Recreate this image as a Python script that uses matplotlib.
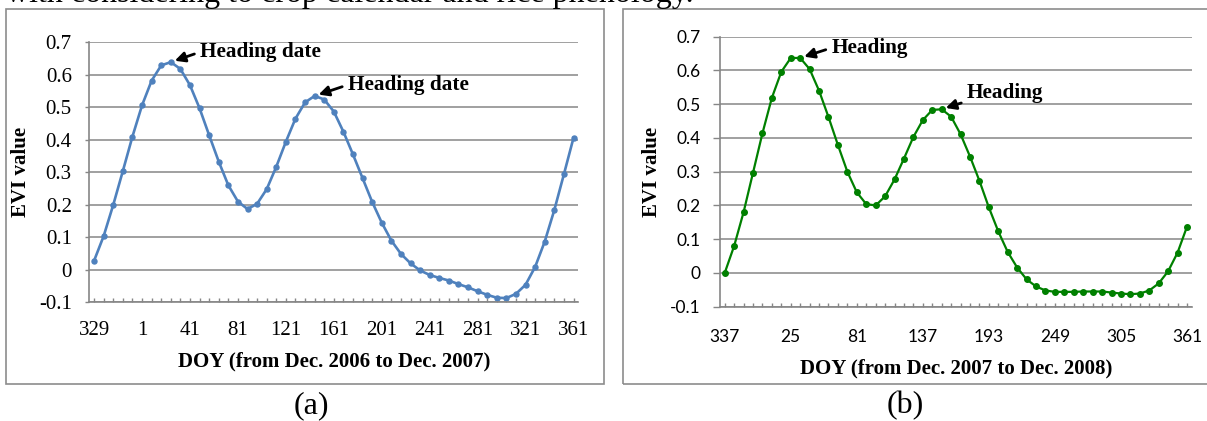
import matplotlib
matplotlib.use("Agg")
import matplotlib.pyplot as plt
from matplotlib.patches import Rectangle

# EVI profiles (8-day composites)
doy_a = [329, 337, 345, 353, 361, 1, 9, 17, 25, 33, 41, 49, 57, 65, 73, 81, 89, 97,
         105, 113, 121, 129, 137, 145, 153, 161, 169, 177, 185, 193, 201, 209, 217,
         225, 233, 241, 249, 257, 265, 273, 281, 289, 297, 305, 313, 321, 329, 337,
         345, 353, 361]
evi_a = [0.028, 0.104, 0.200, 0.304, 0.410, 0.506, 0.582, 0.629, 0.639, 0.618,
         0.568, 0.497, 0.414, 0.333, 0.260, 0.210, 0.187, 0.203, 0.248, 0.317,
         0.394, 0.465, 0.515, 0.535, 0.524, 0.487, 0.425, 0.355, 0.282, 0.209,
         0.145, 0.090, 0.049, 0.020, -0.002, -0.016, -0.025, -0.033, -0.044, -0.054,
         -0.066, -0.077, -0.086, -0.087, -0.074, -0.046, 0.009, 0.087, 0.184, 0.294,
         0.406]

doy_b = [337, 345, 353, 361, 1, 9, 17, 25, 33, 41, 49, 57, 65, 73, 81, 89, 97, 105,
         113, 121, 129, 137, 145, 153, 161, 169, 177, 185, 193, 201, 209, 217, 225,
         233, 241, 249, 257, 265, 273, 281, 289, 297, 305, 313, 321, 329, 337, 345,
         353, 361]
evi_b = [0.000, 0.080, 0.180, 0.297, 0.414, 0.519, 0.596, 0.637, 0.637, 0.604,
         0.540, 0.462, 0.379, 0.300, 0.239, 0.204, 0.200, 0.227, 0.277, 0.339,
         0.403, 0.453, 0.483, 0.485, 0.463, 0.411, 0.345, 0.273, 0.194, 0.123,
         0.062, 0.016, -0.019, -0.040, -0.052, -0.056, -0.056, -0.056, -0.055, -0.055,
         -0.055, -0.058, -0.061, -0.063, -0.061, -0.052, -0.031, 0.005, 0.060, 0.137]

yticks = [-0.1, 0, 0.1, 0.2, 0.3, 0.4, 0.5, 0.6, 0.7]
ytick_labels = ["-0.1", "0", "0.1", "0.2", "0.3", "0.4", "0.5", "0.6", "0.7"]

W, H = 1207, 421
SERIF = "Liberation Serif"
GRAY = "#868686"


def box(l, t, r, b):
    return [l / W, 1 - b / H, (r - l) / W, (b - t) / H]


fig = plt.figure(figsize=(W / 100, H / 100), dpi=100)

# panel frames
for l, t, r, b in [(6, 9, 604, 384), (623, 9, 1215, 384)]:
    fig.add_artist(Rectangle((l / W, 1 - b / H), (r - l) / W, (b - t) / H,
                             transform=fig.transFigure, fill=False,
                             edgecolor="#8c8c8c", lw=1.2))

# cut-off line of body text above the figure
fig.text(6 / W, 1 - 2 / H, "with considering to crop calendar and rice phenology.",
         fontsize=23, family=SERIF, va="baseline")
fig.text(311 / W, 1 - 413 / H, "(a)", fontsize=23, family=SERIF, ha="center", va="baseline")
fig.text(905 / W, 1 - 413 / H, "(b)", fontsize=23, family=SERIF, ha="center", va="baseline")


def style_axes(ax, n, step, doy, tickfont, tsize, ylen, ypad, xpad):
    ax.set_ylim(-0.1, 0.7)
    ax.set_xlim(-0.5, n - 0.5)
    ax.set_yticks(yticks)
    ax.set_yticklabels(ytick_labels, family=tickfont, fontsize=tsize)
    ax.set_xticks(range(n))
    ax.set_xticklabels([str(d) if i % step == 0 else "" for i, d in enumerate(doy)],
                       family=tickfont, fontsize=tsize)
    ax.tick_params(axis="y", length=ylen, width=1, color=GRAY, pad=ypad, direction="out")
    ax.tick_params(axis="x", length=3, width=1, color=GRAY, pad=xpad, direction="in")
    for s in ["top", "right"]:
        ax.spines[s].set_visible(False)
    for s in ["left", "bottom"]:
        ax.spines[s].set_color(GRAY)
        ax.spines[s].set_linewidth(1.2)
    ax.yaxis.grid(True, color=GRAY, lw=1.1)
    ax.set_axisbelow(True)


arrow = dict(arrowstyle="-|>", color="black", lw=2, mutation_scale=15,
             shrinkA=2, shrinkB=3)

# (a)
ax_a = fig.add_axes(box(89.3, 42.3, 578.3, 302.3))
ax_a.plot(range(len(evi_a)), evi_a, color="#4F81BD", lw=1.9, marker="o", ms=3.6)
style_axes(ax_a, len(doy_a), 5, doy_a, SERIF, 15, 3.1, 9.5, 13.5)
ax_a.set_ylabel("EVI value", family=SERIF, fontsize=15, fontweight="bold")
ax_a.yaxis.set_label_coords(-0.119, 0.5)
ax_a.set_xlabel("DOY (from Dec. 2006 to Dec. 2007)", family=SERIF, fontsize=15,
                fontweight="bold")
ax_a.xaxis.set_label_coords(0.5, -0.226)
ax_a.xaxis.label.set_verticalalignment("center")
for i, dx, dy in [(8, 29, 10), (23, 33, 11)]:
    ax_a.annotate("Heading date", xy=(i, evi_a[i]), xytext=(dx, dy),
                  textcoords="offset pixels", ha="left", va="center",
                  family=SERIF, fontsize=15.3, fontweight="bold",
                  arrowprops=dict(arrow, relpos=(0, 0.5)))

# (b)
ax_b = fig.add_axes(box(720, 36.7, 1191.7, 306.7))
ax_b.plot(range(len(evi_b)), evi_b, color="#008000", lw=1.6, marker="o", ms=4)
style_axes(ax_b, len(doy_b), 7, doy_b, "Lato", 12.5, 4.8, 9.4, 16)
ax_b.set_ylabel("EVI value", family=SERIF, fontsize=15, fontweight="bold")
ax_b.yaxis.set_label_coords(-0.123, 0.5)
ax_b.set_xlabel("DOY (from Dec. 2007 to Dec. 2008)", family=SERIF, fontsize=15,
                fontweight="bold")
ax_b.xaxis.set_label_coords(0.5, -0.227)
ax_b.xaxis.label.set_verticalalignment("center")
for i, dx, dy, rp in [(8, 31, 10, (0, 0.5)), (23, 25, 16, (0.04, 0.15))]:
    ax_b.annotate("Heading", xy=(i, evi_b[i]), xytext=(dx, dy),
                  textcoords="offset pixels", ha="left", va="center",
                  family=SERIF, fontsize=15.3, fontweight="bold",
                  arrowprops=dict(arrow, relpos=rp))

fig.savefig("out.png", dpi=100)
